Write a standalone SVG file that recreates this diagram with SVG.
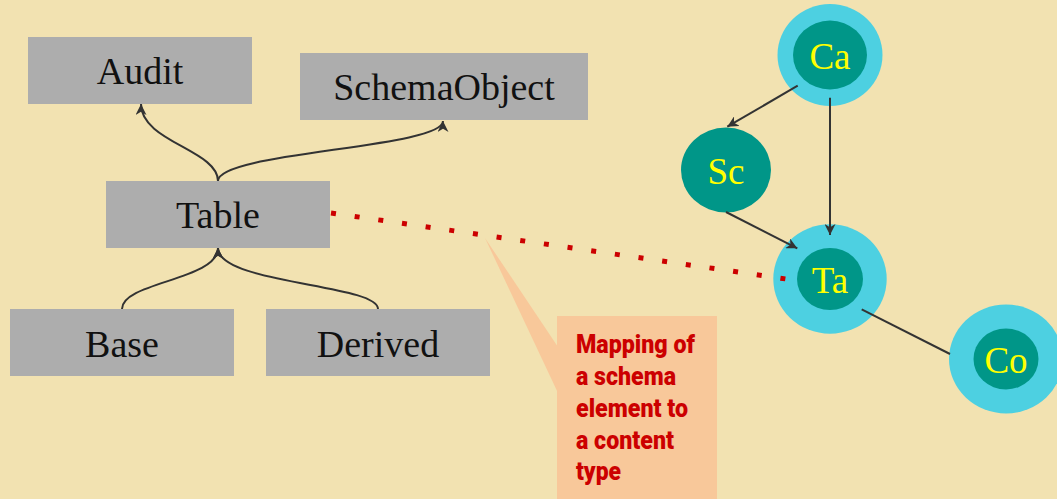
<svg xmlns="http://www.w3.org/2000/svg" width="1057" height="499" viewBox="0 0 1057 499">
<style>
.box{fill:#ADADAD}
.bt{font-family:"Liberation Serif",serif;font-size:38px;fill:#111;text-anchor:middle}
.ct{font-family:"Liberation Serif",serif;font-size:37px;fill:#FFFF00;text-anchor:middle}
.outer{fill:#4DD0E1}
.inner{fill:#009688}
.edge{fill:none;stroke:#333;stroke-width:2}
.note{font-family:Roboto,"Liberation Sans",sans-serif;font-weight:900;font-size:25px;fill:#CC0000}
</style>
<defs>
<marker id="ah" viewBox="0 0 10 10" refX="10" refY="5" markerWidth="11" markerHeight="11" markerUnits="userSpaceOnUse" orient="auto">
<path d="M0,0 L10,5 L0,10 L3,5 Z" fill="#333"/>
</marker>
</defs>
<rect width="1057" height="499" fill="#F2E2B1"/>

<g id="callout">
<polygon points="485,238 558,347 558,393" fill="#F8C89A"/>
<rect x="557" y="316" width="160" height="190" fill="#F8C89A"/>
<text class="note" x="576" y="353" textLength="119" lengthAdjust="spacingAndGlyphs">Mapping of</text>
<text class="note" x="576" y="385" textLength="100" lengthAdjust="spacingAndGlyphs">a schema</text>
<text class="note" x="576" y="417" textLength="112" lengthAdjust="spacingAndGlyphs">element to</text>
<text class="note" x="576" y="449" textLength="98" lengthAdjust="spacingAndGlyphs">a content</text>
<text class="note" x="576" y="480" textLength="45" lengthAdjust="spacingAndGlyphs">type</text>
</g>

<g id="audit"><rect class="box" x="28" y="37" width="224" height="67"/><text class="bt" x="140" y="84">Audit</text></g>
<g id="schemaobject"><rect class="box" x="300" y="53" width="288" height="67"/><text class="bt" x="444" y="100">SchemaObject</text></g>
<g id="table"><rect class="box" x="106" y="181" width="224" height="67"/><text class="bt" x="218" y="228">Table</text></g>
<g id="base"><rect class="box" x="10" y="309" width="224" height="67"/><text class="bt" x="122" y="357">Base</text></g>
<g id="derived"><rect class="box" x="266" y="309" width="224" height="67"/><text class="bt" x="378" y="357">Derived</text></g>

<g id="ca"><ellipse class="outer" cx="830" cy="55" rx="52.5" ry="51"/><ellipse class="inner" cx="830" cy="55" rx="37" ry="34.5"/><text class="ct" x="830" y="69">Ca</text></g>
<g id="sc"><ellipse class="inner" cx="726" cy="170" rx="45" ry="42.5"/><text class="ct" x="726" y="184">Sc</text></g>
<g id="ta"><ellipse class="outer" cx="830" cy="279" rx="56.7" ry="54.7"/><ellipse class="inner" cx="830" cy="279" rx="33" ry="31"/><text class="ct" x="830" y="293">Ta</text></g>
<g id="co"><ellipse class="outer" cx="1006" cy="359" rx="57" ry="54.5"/><ellipse class="inner" cx="1006" cy="359" rx="32.5" ry="30.5"/><text class="ct" x="1006" y="373">Co</text></g>

<g id="connectors">
<path class="edge" d="M218,181 C218,150 141,142 141,104" marker-end="url(#ah)"/>
<path class="edge" d="M218,181 C218,152 443,148 443,121" marker-end="url(#ah)"/>
<path class="edge" d="M122,309 C122,282 218,280 218,248" marker-end="url(#ah)"/>
<path class="edge" d="M378,309 C378,284 218,284 218,248" marker-end="url(#ah)"/>
<line class="edge" x1="797.7" y1="85.7" x2="727.3" y2="126.7" marker-end="url(#ah)"/>
<line class="edge" x1="830" y1="97.7" x2="830" y2="235" marker-end="url(#ah)"/>
<line class="edge" x1="726" y1="212" x2="797.3" y2="248.3" marker-end="url(#ah)"/>
<line class="edge" x1="861.7" y1="309.3" x2="950" y2="354"/>
<line x1="331" y1="213" x2="789" y2="279.4" stroke="#CC0000" stroke-width="5" stroke-dasharray="5 18.9"/>
</g>
</svg>
